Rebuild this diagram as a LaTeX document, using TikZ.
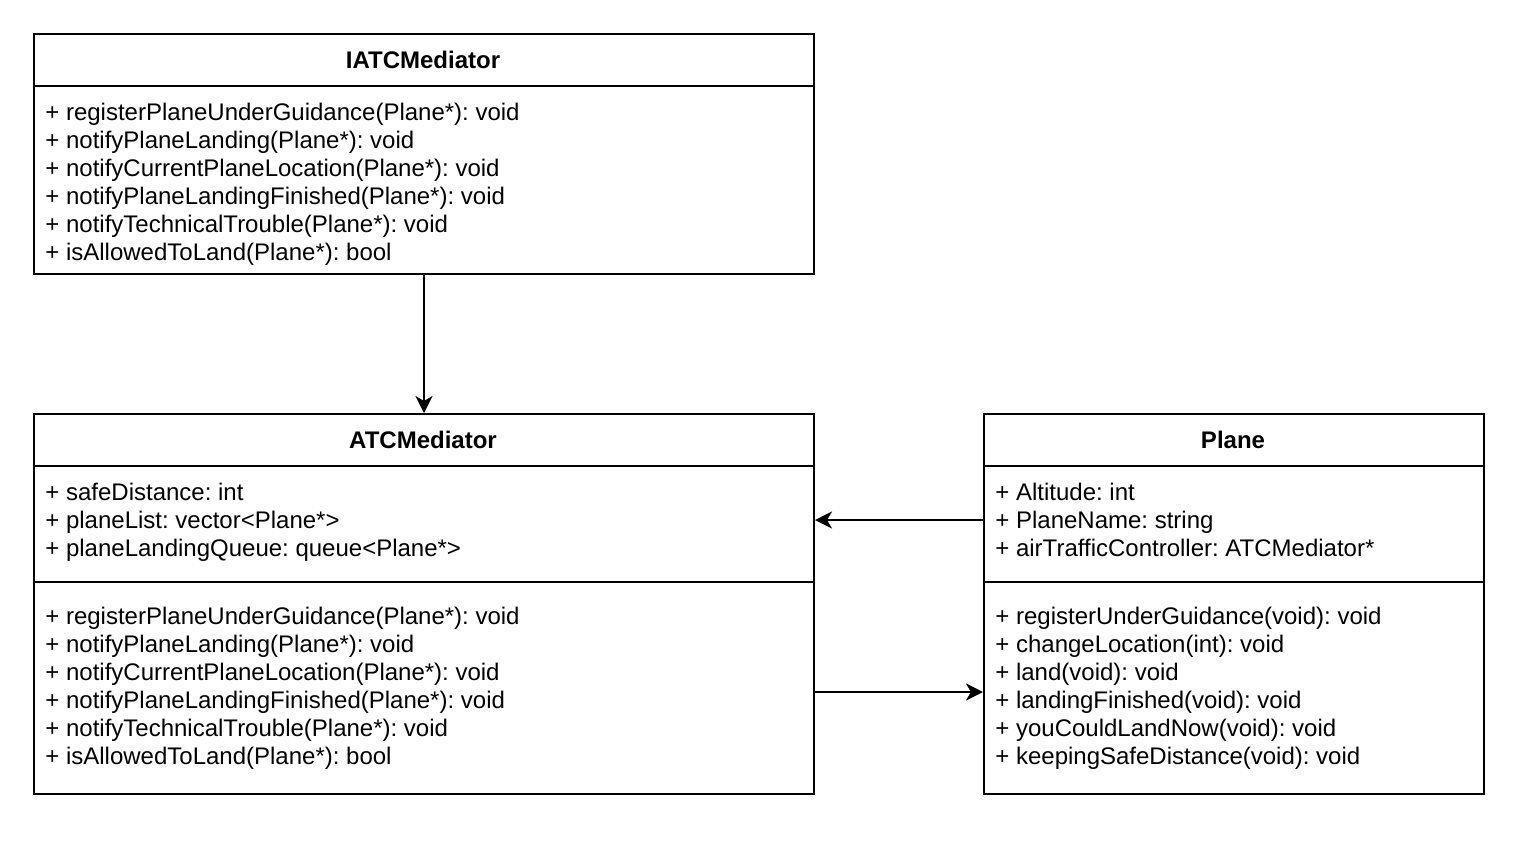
\documentclass[tikz,border=0pt]{standalone}
\usepackage{fontspec}
\setmainfont{Liberation Sans}
\usetikzlibrary{arrows.meta}
\frenchspacing
\begin{document}
\begin{tikzpicture}[x=0.5pt,y=-0.5pt,
  comp/.style={draw, line width=1pt, inner sep=0pt, anchor=north west, fill=white},
  member/.style={anchor=base west, inner sep=0pt, font=\fontsize{12}{14}\selectfont},
  ctitle/.style={anchor=base, inner sep=0pt, font=\fontsize{12}{14}\selectfont\bfseries},
  conn/.style={line width=1pt, -{Stealth[length=8.5pt,width=8.5pt,inset=2.5pt]}}]
\useasboundingbox[fill=white] (0,0) rectangle (1532,848);
% IATCMediator
\node[comp, minimum width=390pt, minimum height=26pt] (iatcH) at (33,33) {};
\node[comp, minimum width=390pt, minimum height=94pt] (iatcM) at (33,85) {};
\node[ctitle] (iatcT) at (423,68) {IATCMediator};
\foreach \t [count=\i] in {{+ registerPlaneUnderGuidance(Plane*): void},{+ notifyPlaneLanding(Plane*): void},{+ notifyCurrentPlaneLocation(Plane*): void},{+ notifyPlaneLandingFinished(Plane*): void},{+ notifyTechnicalTrouble(Plane*): void},{+ isAllowedToLand(Plane*): bool}}
  \node[member] (iatcm\i) at (45,{120+28*(\i-1)}) {\t};
% ATCMediator
\node[comp, minimum width=390pt, minimum height=26pt] (atcH) at (33,413) {};
\node[comp, minimum width=390pt, minimum height=58pt] (atcA) at (33,465) {};
\node[comp, minimum width=390pt, minimum height=106pt] (atcM) at (33,581) {};
\node[ctitle] (atcT) at (423,448) {ATCMediator};
\foreach \t [count=\i] in {{+ safeDistance: int},{+ planeList: vector<Plane*>},{+ planeLandingQueue: queue<Plane*>}}
  \node[member] (atca\i) at (45,{500+28*(\i-1)}) {\t};
\foreach \t [count=\i] in {{+ registerPlaneUnderGuidance(Plane*): void},{+ notifyPlaneLanding(Plane*): void},{+ notifyCurrentPlaneLocation(Plane*): void},{+ notifyPlaneLandingFinished(Plane*): void},{+ notifyTechnicalTrouble(Plane*): void},{+ isAllowedToLand(Plane*): bool}}
  \node[member] (atcm\i) at (45,{624+28*(\i-1)}) {\t};
% Plane
\node[comp, minimum width=250pt, minimum height=26pt] (planeH) at (983,413) {};
\node[comp, minimum width=250pt, minimum height=58pt] (planeA) at (983,465) {};
\node[comp, minimum width=250pt, minimum height=106pt] (planeM) at (983,581) {};
\node[ctitle] (planeT) at (1233,448) {Plane};
\foreach \t [count=\i] in {{+ Altitude: int},{+ PlaneName: string},{+ airTrafficController: ATCMediator*}}
  \node[member] (planea\i) at (995,{500+28*(\i-1)}) {\t};
\foreach \t [count=\i] in {{+ registerUnderGuidance(void): void},{+ changeLocation(int): void},{+ land(void): void},{+ landingFinished(void): void},{+ youCouldLandNow(void): void},{+ keepingSafeDistance(void): void}}
  \node[member] (planem\i) at (995,{624+28*(\i-1)}) {\t};
% connectors
\draw[conn] (iatcM.south) -- (atcH.north);
\draw[conn] ([yshift=2pt]planeA.west) -- ([yshift=2pt]atcA.east);
\draw[conn] ([yshift=-2pt]atcM.east) -- ([yshift=-2pt]planeM.west);
\end{tikzpicture}
\end{document}
